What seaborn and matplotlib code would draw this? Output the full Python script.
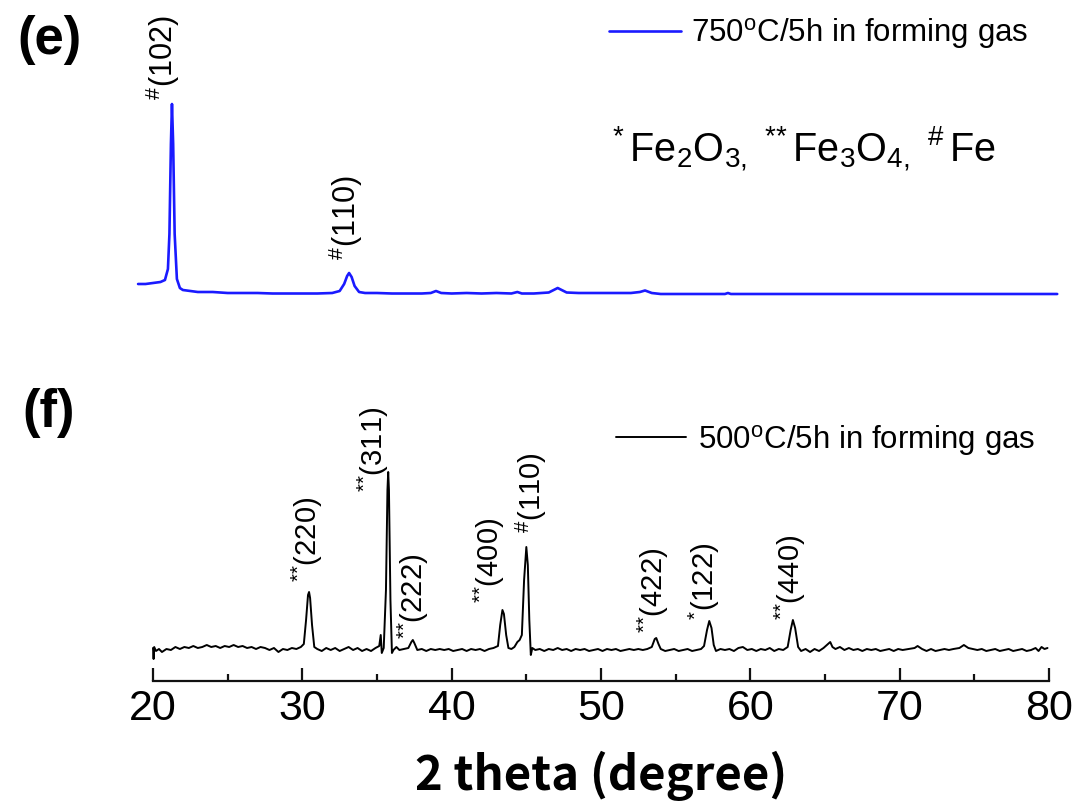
import numpy as np
import pandas as pd
import matplotlib
matplotlib.use('Agg')
import matplotlib.pyplot as plt
from matplotlib.ticker import MultipleLocator
from matplotlib.lines import Line2D
import seaborn as sns

# pattern (f): 500C / 5h (intensity in a.u., baseline = 0)
two_theta_f = [20.00, 20.04, 20.08, 20.2, 20.4, 20.6, 20.9, 21.2, 21.5, 21.8, 22.1, 22.4, 22.7, 23.0,
               23.3, 23.6, 23.9, 24.2, 24.5, 24.8, 25.1, 25.4, 25.7, 26.0, 26.3, 26.6, 26.9, 27.2,
               27.5, 27.8, 28.1, 28.4, 28.7, 29.0, 29.3, 29.6, 29.9, 30.1, 30.25, 30.38, 30.45, 30.52,
               30.65, 30.8, 31.0, 31.3, 31.6, 31.9, 32.2, 32.5, 32.8, 33.1, 33.4, 33.7, 34.0, 34.3,
               34.6, 34.9, 35.15, 35.25, 35.32, 35.45, 35.6, 35.7, 35.75, 35.8, 35.9, 36.0, 36.1, 36.3,
               36.5, 36.8, 37.1, 37.3, 37.4, 37.5, 37.7, 38.0, 38.3, 38.6, 38.9, 39.2, 39.5, 39.8,
               40.1, 40.4, 40.7, 41.0, 41.3, 41.6, 41.9, 42.2, 42.5, 42.8, 43.1, 43.25, 43.4, 43.5,
               43.65, 43.8, 44.0, 44.2, 44.4, 44.55, 44.7, 44.85, 45.0, 45.1, 45.2, 45.3, 45.4, 45.6,
               45.9, 46.2, 46.5, 46.8, 47.1, 47.4, 47.7, 48.0, 48.3, 48.6, 48.9, 49.2, 49.5, 49.8,
               50.1, 50.4, 50.7, 51.0, 51.3, 51.6, 51.9, 52.2, 52.5, 52.8, 53.1, 53.4, 53.6, 53.7,
               53.85, 54.0, 54.3, 54.6, 54.9, 55.2, 55.5, 55.8, 56.1, 56.4, 56.7, 56.9, 57.1, 57.25,
               57.4, 57.55, 57.7, 58.0, 58.3, 58.6, 58.9, 59.2, 59.5, 59.8, 60.1, 60.4, 60.7, 61.0,
               61.3, 61.6, 61.9, 62.2, 62.5, 62.7, 62.85, 63.0, 63.2, 63.4, 63.7, 64.0, 64.3, 64.6,
               64.9, 65.2, 65.35, 65.5, 65.7, 66.0, 66.3, 66.6, 66.9, 67.2, 67.5, 67.8, 68.1, 68.4,
               68.7, 69.0, 69.3, 69.6, 69.9, 70.2, 70.6, 71.0, 71.2, 71.5, 71.8, 72.1, 72.4, 72.7,
               73.0, 73.3, 73.6, 74.0, 74.3, 74.6, 74.9, 75.2, 75.5, 75.8, 76.1, 76.4, 76.7, 77.0,
               77.3, 77.6, 77.9, 78.2, 78.5, 78.8, 79.1, 79.3, 79.5, 79.7, 79.9]
intensity_f = [2, -9, 3, -1, 1, -2, 1, 0, 3, 1, 3, 2, 4, 2,
               3, 5, 3, 4, 2, 4, 3, 5, 3, 4, 2, 3, 1, 3,
               2, 0, 2, -2, 1, 0, 2, 1, 3, 6, 30, 55, 58, 52,
               25, 3, 1, -1, 2, 0, 2, -1, 1, 3, 0, 2, -1, 1,
               -1, 2, 4, 15, -3, 2, 60, 160, 178, 160, 50, -3, 0, 3,
               0, 1, 2, 8, 10, 7, 0, 1, -1, 1, 0, 1, 0, 1,
               -1, 0, 1, -1, 1, 0, 1, -1, 1, 2, 4, 25, 40, 36,
               15, 2, 1, 3, 8, 10, 15, 70, 103, 85, 30, -5, 2, 0,
               1, -1, 1, 0, 2, 0, 1, -1, 1, 0, 1, -1, 0, 1,
               -1, 1, 0, 1, -1, 0, 1, 0, 1, 0, 1, 3, 11, 12,
               6, 1, -1, 0, 1, -1, 0, 1, -1, 0, 1, 4, 20, 29,
               22, 5, -1, 1, 0, 1, -1, 2, 3, 0, 1, -1, 1, 0,
               2, -1, 1, 0, 3, 20, 30, 22, 3, -1, 1, -2, 1, -1,
               2, 6, 8, 3, 1, 3, 0, 2, 0, 1, -1, 1, 0, 1,
               -1, 0, 1, -1, 1, 0, 1, 2, 4, 1, -1, 1, -1, 0,
               1, 0, 1, 2, 5, 2, 1, 0, 1, -1, 0, 1, -1, 0,
               1, -1, 0, 1, -1, 0, 2, -1, 3, 1, 2]

# pattern (e): 750C / 5h
two_theta_e = [19.0, 19.5, 20.0, 20.5, 20.8, 21.0, 21.1, 21.2, 21.27, 21.35, 21.45, 21.6, 21.8, 22.0,
               22.5, 23.0, 24.0, 25.0, 26.0, 27.0, 28.0, 29.0, 30.0, 31.0, 32.0, 32.5, 32.8, 33.0,
               33.13, 33.3, 33.5, 33.8, 34.2, 35.0, 36.0, 37.0, 38.0, 38.6, 38.95, 39.3, 40.0, 41.0,
               42.0, 43.0, 44.0, 44.4, 44.7, 45.5, 46.5, 47.1, 47.7, 48.5, 50.0, 51.0, 52.0, 52.6,
               52.95, 53.4, 54.0, 56.0, 58.3, 58.5, 58.7, 60.0, 65.0, 70.0, 75.0, 80.55]
intensity_e = [10, 10, 11, 12, 14, 25, 60, 150, 190, 150, 60, 15, 6, 4,
               3, 2, 2, 1, 1, 1, 0.5, 0.5, 0.5, 0.5, 1, 3, 10, 18,
               21, 17, 8, 2, 1, 1, 0.5, 0.5, 0.5, 1, 3, 1, 0.5, 1,
               0.5, 1, 0.5, 2, 0.5, 0.5, 1.5, 6, 1.5, 1, 1, 1, 1, 2,
               3.5, 1, 0, 0, 0, 1, 0, 0, 0, 0, 0, 0]
offset_e = 356

# peak labels
labels_f = ['$^{{*}{*}}$(220)', '$^{{*}{*}}$(311)', '$^{{*}{*}}$(222)', '$^{{*}{*}}$(400)',
            '$^{\\#}$(110)', '$^{{*}{*}}$(422)', '$^{{*}}$(122)', '$^{{*}{*}}$(440)']
label_x_f = [30.35, 34.75, 37.45, 42.5, 45.35, 53.5, 56.95, 62.65]
label_y_f = [68, 158, 11, 47, 117, 17, 30, 30]
labels_e = ['$^{\\#}$(102)', '$^{\\#}$(110)']
label_x_e = [20.65, 32.9]
label_y_e = [550, 390]

df_f = pd.DataFrame({'two_theta': two_theta_f, 'intensity': intensity_f})
df_e = pd.DataFrame({'two_theta': two_theta_e, 'intensity': np.array(intensity_e) + offset_e})

sns.set_style('white')
plt.rcParams['font.family'] = ['Liberation Sans', 'DejaVu Sans']
plt.rcParams['text.color'] = 'black'
plt.rcParams['xtick.color'] = 'black'
plt.rcParams['axes.labelcolor'] = 'black'
plt.rcParams['mathtext.fontset'] = 'custom'
plt.rcParams['mathtext.rm'] = 'Liberation Sans'
plt.rcParams['mathtext.it'] = 'Liberation Sans'
plt.rcParams['mathtext.bf'] = 'Liberation Sans:bold'

W, H = 1076, 806
fig = plt.figure(figsize=(W / 100, H / 100), dpi=100)
ax = fig.add_axes([153 / W, 1 - 681 / H, 896 / W, 681 / H])

sns.lineplot(data=df_f, x='two_theta', y='intensity', color='black', lw=1.4,
             sort=False, estimator=None, ax=ax)
sns.lineplot(data=df_e, x='two_theta', y='intensity', color='#1a1aff', lw=1.9,
             sort=False, estimator=None, ax=ax)
for ln in ax.lines:
    ln.set_clip_on(False)

ax.set_xlim(20, 80)
ax.set_ylim(-31, 650)
for s in ['top', 'left', 'right']:
    ax.spines[s].set_visible(False)
ax.spines['bottom'].set_linewidth(1.6)
ax.spines['bottom'].set_color('#111111')
ax.set_yticks([])
ax.xaxis.set_major_locator(MultipleLocator(10))
ax.xaxis.set_minor_locator(MultipleLocator(5))
ax.tick_params(axis='x', which='major', direction='in', length=9.5, width=1.6,
               labelsize=31, pad=6, color='#111111', labelcolor='black', bottom=True)
ax.tick_params(axis='x', which='minor', direction='in', length=5, width=1.6,
               color='#111111', bottom=True)
ax.set_ylabel('')
ax.set_xlabel('2 theta (degree)', fontsize=34, fontweight='bold',
              family=['Noto Sans CJK KR', 'DejaVu Sans'], va='center')
ax.xaxis.set_label_coords(0.5, (681 - 776) / 681)

for t, x, y in zip(labels_f, label_x_f, label_y_f):
    ax.text(x, y, t, rotation=90, ha='center', va='bottom', fontsize=21, clip_on=False)
for t, x, y in zip(labels_e, label_x_e, label_y_e):
    ax.text(x, y, t, rotation=90, ha='center', va='bottom', fontsize=22, clip_on=False)

ax.text(20 + (612 - 153) / 14.93, 650 - 162,
        '$^{*}\\,$Fe$_{2}$O$_{3,}$ $^{{*}{*}}\\,$Fe$_{3}$O$_{4,}$ $^{\\#}\\,$Fe',
        fontsize=28.5, ha='left', va='baseline', clip_on=False)

fig.text(49 / W, 1 - 40 / H, '(e)', fontsize=38, fontweight='bold', ha='center', va='center')
fig.text(49 / W, 1 - 413 / H, '(f)', fontsize=38, fontweight='bold', ha='center', va='center')

h_e = Line2D([], [], color='#1a1aff', lw=1.9)
h_f = Line2D([], [], color='black', lw=1.4)
leg_e = ax.legend([h_e], ['750$^{\\rm o}$C/5h in forming gas'], loc='center left',
                  bbox_to_anchor=(609 / W, 1 - 34 / H), bbox_transform=fig.transFigure,
                  frameon=False, fontsize=22.5, handlelength=2.3, handletextpad=0.33,
                  borderpad=0, borderaxespad=0)
ax.add_artist(leg_e)
ax.legend([h_f], ['500$^{\\rm o}$C/5h in forming gas'], loc='center left',
          bbox_to_anchor=(616 / W, 1 - 440 / H), bbox_transform=fig.transFigure,
          frameon=False, fontsize=22.5, handlelength=2.25, handletextpad=0.36,
          borderpad=0, borderaxespad=0)

fig.savefig('out.png', dpi=100)
